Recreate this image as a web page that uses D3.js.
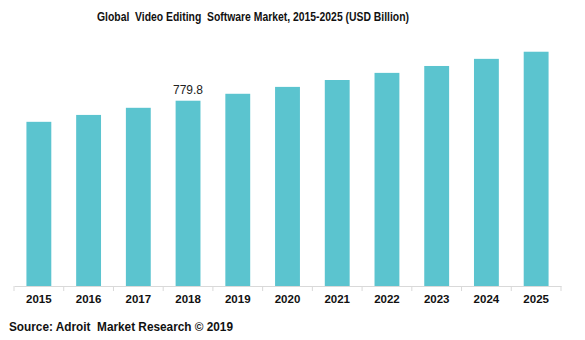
<!DOCTYPE html>
<html><head><meta charset="utf-8">
<script src="https://cdn.jsdelivr.net/npm/d3@7"></script>
<style>body{margin:0;background:#fff}svg{display:block}</style>
</head><body>
<svg id="c" width="585" height="340"></svg>
<script>
const years = ["2015","2016","2017","2018","2019","2020","2021","2022","2023","2024","2025"];
const values = [691, 720, 750, 779.8, 809, 838, 867, 897, 926, 956, 986];
const labelled = ["2018"];
const title = "Global  Video Editing  Software Market, 2015-2025 (USD Billion)";
const source = "Source: Adroit  Market Research \u00a9 2019";

const svg = d3.select("#c");
const x = d3.scaleBand().domain(years).range([14, 561]).paddingInner(0.5).paddingOuter(0.25);
const y = d3.scaleLinear().domain([0, 1000]).range([286, 48.4]);

svg.append("text").attr("x", 253).attr("y", 21).attr("text-anchor", "middle")
  .style("white-space", "pre")
  .attr("font-family", "'Liberation Sans Narrow', 'Arial Narrow', 'Liberation Sans', Arial, sans-serif")
  .attr("font-weight", "bold").attr("font-size", 13).attr("fill", "#111")
  .attr("textLength", 312).attr("lengthAdjust", "spacingAndGlyphs").text(title);

svg.selectAll("rect.bar").data(years).enter().append("rect")
  .attr("class", "bar")
  .attr("x", d => x(d)).attr("width", x.bandwidth())
  .attr("y", (d, i) => y(values[i])).attr("height", (d, i) => y(0) - y(values[i]))
  .attr("fill", "#5bc4cf");

const xb = d3.scaleBand().domain(years).range([14, 561]);
const ax = svg.append("g").attr("transform", "translate(0,286)")
  .call(d3.axisBottom(xb).tickSize(0).tickSizeOuter(0));
ax.select(".domain").attr("stroke", "#d9d9d9");
ax.selectAll(".tick text").attr("dy", 0).attr("y", 17)
  .attr("font-family", "'Liberation Sans', Arial, sans-serif")
  .attr("font-weight", "bold").attr("font-size", 11.5).attr("fill", "#111");
const bounds = [14].concat(years.map(d => xb(d) + xb.bandwidth()));
ax.selectAll("line.sep").data(bounds).enter().append("line").attr("class", "sep")
  .attr("x1", d => d).attr("x2", d => d).attr("y1", 0).attr("y2", 5)
  .attr("stroke", "#d9d9d9");

svg.selectAll("text.val").data(years.filter(d => labelled.includes(d))).enter().append("text")
  .attr("class", "val")
  .attr("x", d => x(d) + x.bandwidth() / 2)
  .attr("y", d => y(values[years.indexOf(d)]) - 7)
  .attr("text-anchor", "middle")
  .attr("font-family", "'Liberation Sans', Arial, sans-serif")
  .attr("font-size", 12).attr("fill", "#222")
  .text(d => values[years.indexOf(d)].toFixed(1));

svg.append("text").attr("x", 9).attr("y", 331)
  .style("white-space", "pre")
  .attr("font-family", "'Liberation Sans', Arial, sans-serif")
  .attr("font-weight", "bold").attr("font-size", 12).attr("fill", "#111")
  .attr("textLength", 224).attr("lengthAdjust", "spacingAndGlyphs").text(source);
</script>
</body></html>
